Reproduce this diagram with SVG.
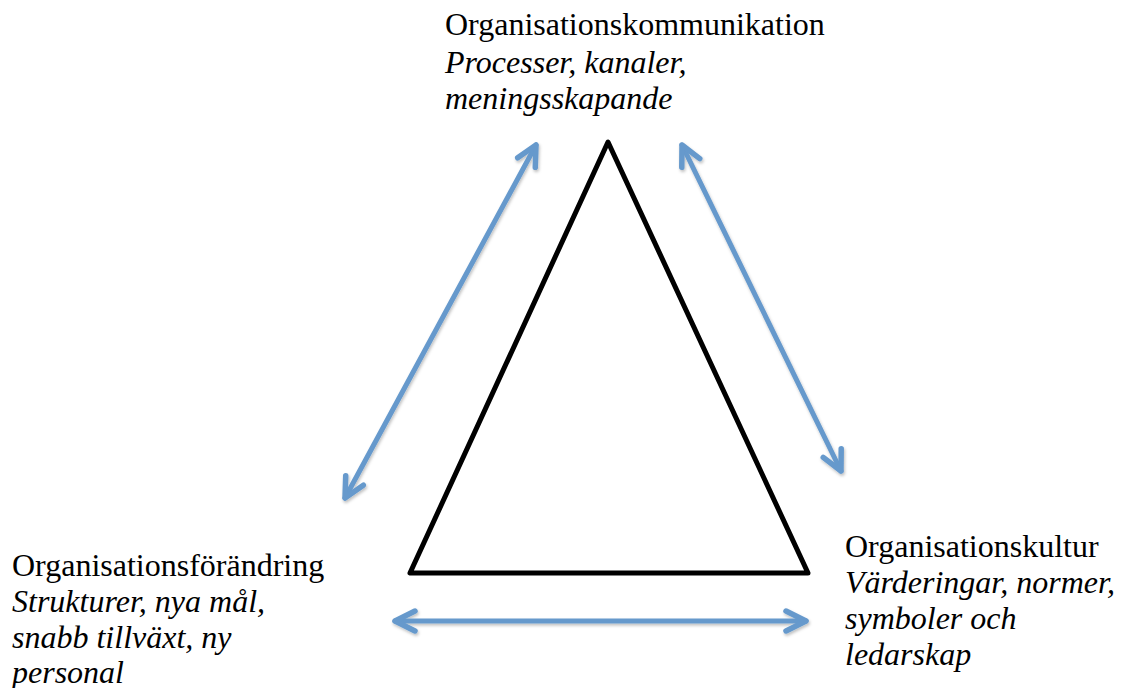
<svg xmlns="http://www.w3.org/2000/svg" width="1123" height="688" viewBox="0 0 1123 688">
<style>
.c{stroke:#6699cc;stroke-width:5;fill:none;stroke-linecap:round}
</style>
<defs>
<marker id="ah" viewBox="-24 -14 28 28" refX="0" refY="0" markerWidth="28" markerHeight="28" markerUnits="userSpaceOnUse" orient="auto-start-reverse">
<polyline points="-20,-10 0,0 -20,10" fill="none" stroke="#6699cc" stroke-width="5.5" stroke-linecap="round" stroke-linejoin="round"/>
</marker>
<filter id="sh" x="-10%" y="-10%" width="120%" height="120%">
<feDropShadow dx="1" dy="2" stdDeviation="1.5" flood-color="#000" flood-opacity="0.25"/>
</filter>
</defs>
<rect width="1123" height="688" fill="#fff"/>
<g id="triangle">
<polygon points="608,142 410,573 808,573" fill="none" stroke="#000" stroke-width="5" stroke-linejoin="round"/>
</g>
<g id="connectors" filter="url(#sh)">
<line class="c" x1="345" y1="498" x2="536" y2="145" marker-start="url(#ah)" marker-end="url(#ah)"/>
<line class="c" x1="682" y1="145" x2="841" y2="471" marker-start="url(#ah)" marker-end="url(#ah)"/>
<line class="c" x1="395" y1="621" x2="806" y2="621" marker-start="url(#ah)" marker-end="url(#ah)"/>
</g>
<g font-family="Liberation Serif" font-size="32" fill="#000">
<g id="node-top">
<text x="445" y="35">Organisationskommunikation</text>
<text x="445" y="73" font-family="Liberation Serif" font-style="italic">Processer, kanaler,</text>
<text x="445" y="109" font-family="Liberation Serif" font-style="italic">meningsskapande</text>
</g>
<g id="node-left">
<text x="12" y="576">Organisationsförändring</text>
<text x="12" y="612" font-family="Liberation Serif" font-style="italic">Strukturer, nya mål,</text>
<text x="12" y="648" font-family="Liberation Serif" font-style="italic">snabb tillväxt, ny</text>
<text x="12" y="683" font-family="Liberation Serif" font-style="italic">personal</text>
</g>
<g id="node-right">
<text x="845" y="557">Organisationskultur</text>
<text x="845" y="593" font-family="Liberation Serif" font-style="italic">Värderingar, normer,</text>
<text x="845" y="629" font-family="Liberation Serif" font-style="italic">symboler och</text>
<text x="845" y="665" font-family="Liberation Serif" font-style="italic">ledarskap</text>
</g>
</g>
</svg>
